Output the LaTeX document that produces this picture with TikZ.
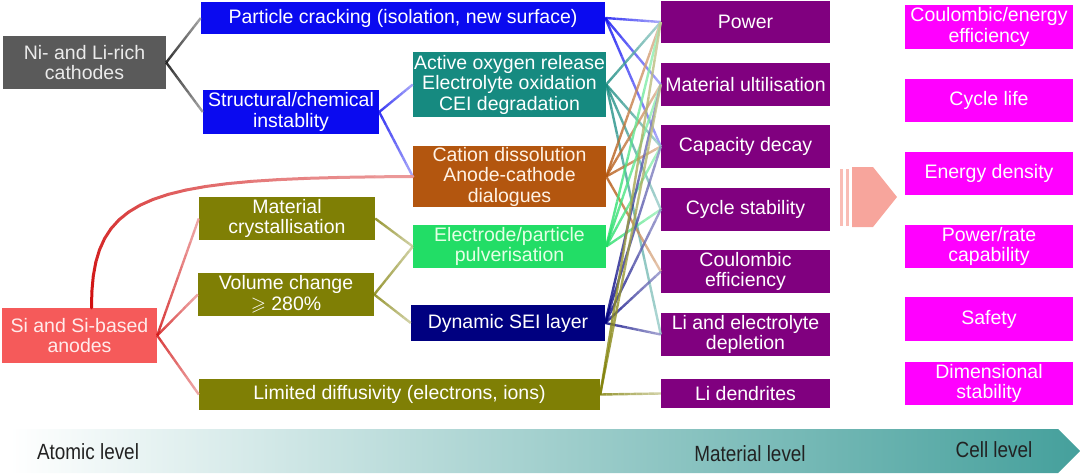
\documentclass[tikz,border=0pt]{standalone}
\usepackage{fontspec}
\usepackage{amssymb}
\usepackage{graphicx}
\setmainfont{Liberation Sans}
\usetikzlibrary{calc}
\definecolor{cgray}{HTML}{5A5A5A}
\definecolor{cblue}{HTML}{0A0AF0}
\definecolor{cteal}{HTML}{168A80}
\definecolor{corange}{HTML}{B3560F}
\definecolor{colive}{HTML}{7F7F05}
\definecolor{cgreen}{HTML}{22DD66}
\definecolor{cnavy}{HTML}{000080}
\definecolor{csalmon}{HTML}{F55A5A}
\definecolor{cpurple}{HTML}{80007F}
\definecolor{cmagenta}{HTML}{FF00FF}
\definecolor{cred}{HTML}{D01010}
\definecolor{cpinkarrow}{HTML}{F7A59C}
\definecolor{cpinkstripe}{HTML}{F9BDB5}
\definecolor{cteallevel}{HTML}{45A09C}
\definecolor{ctext}{HTML}{222222}
\newcommand{\gline}[3]{%
  \foreach \k in {0,...,9}{%
    \pgfmathsetmacro{\ta}{\k/10}%
    \pgfmathsetmacro{\tb}{(\k+1)/10}%
    \pgfmathtruncatemacro{\pc}{100-6*\k}%
    \draw[conn,draw=#3!\pc!white] ($(#1)!\ta!(#2)$) -- ($(#1)!\tb!(#2)$);
  }}
\begin{document}
\begin{tikzpicture}[x=1pt,y=-1pt,
  box/.style 2 args={rectangle, inner sep=0pt, align=center, text=white,
    font=\fontsize{19.5}{20.5}\selectfont, minimum width=#1, minimum height=#2},
  conn/.style={line width=2.4pt, opacity=0.8},
  lvl/.style={text=ctext, font=\fontsize{22}{22}\selectfont, inner sep=0pt}]
\useasboundingbox (0,0) rectangle (1080,474);
% bottom level arrow
\shade[left color=white, right color=cteallevel] (10,429) -- (1058,429) -- (1080,451) -- (1058,473) -- (10,473) -- cycle;
\node[lvl] (al) at (88,452) {\scalebox{0.86}[1]{Atomic level}};
\node[lvl] (ml) at (750,454) {\scalebox{0.86}[1]{Material level}};
\node[lvl] (cl) at (994,450) {\scalebox{0.86}[1]{Cell level}};
% pink arrow
\fill[cpinkstripe] (840,169) rectangle (843,226);
\fill[cpinkstripe] (846,169) rectangle (849,226);
\fill[cpinkarrow] (852,167) -- (873,167) -- (897,197) -- (873,227) -- (852,227) -- cycle;
% left column
\node[box={163}{53}, fill=cgray, text=white!92!black] (ni) at (84.5,62.5) {Ni- and Li-rich\\cathodes};
\node[box={155}{55}, fill=csalmon, text=white!92!red] (si) at (79.5,335.5) {Si and Si-based\\anodes};
% second column
\node[box={404}{32}, fill=cblue] (pc) at (403,18) {Particle cracking (isolation, new surface)};
\node[box={176}{44}, fill=cblue] (sci) at (291,112) {Structural/chemical\\instablity};
\node[box={176}{43}, fill=colive] (mc) at (287,218.5) {Material\\crystallisation};
\node[box={176}{43}, fill=colive, font=\fontsize{19.5}{21.5}\selectfont] (vc) at (286,294.5) {Volume change\\$\geqslant$ 280\%};
\node[box={401}{31}, fill=colive] (ld) at (399.5,394.5) {Limited diffusivity (electrons, ions)};
% third column
\node[box={193}{65}, fill=cteal] (aor) at (509.5,84.5) {Active oxygen release\\Electrolyte oxidation\\CEI degradation};
\node[box={193}{61}, fill=corange, text=white!90!orange] (cat) at (509.5,176.5) {Cation dissolution\\Anode-cathode\\dialogues};
\node[box={193}{43}, fill=cgreen, text=white!90!green] (epp) at (509.5,246.5) {Electrode/particle\\pulverisation};
\node[box={194}{36}, fill=cnavy] (sei) at (508,323) {Dynamic SEI layer};
% purple column
\node[box={169}{42}, fill=cpurple] (pw) at (745.5,22) {Power};
\node[box={169}{43}, fill=cpurple] (mu) at (745.5,84.5) {Material ultilisation};
\node[box={169}{43}, fill=cpurple] (cd) at (745.5,146.5) {Capacity decay};
\node[box={169}{43}, fill=cpurple] (cs) at (745.5,209.5) {Cycle stability};
\node[box={169}{43}, fill=cpurple] (ce) at (745.5,271.5) {Coulombic\\efficiency};
\node[box={169}{43}, fill=cpurple] (le) at (745.5,334.5) {Li and electrolyte\\depletion};
\node[box={169}{29}, fill=cpurple] (ldn) at (745.5,393.5) {Li dendrites};
% magenta column
\node[box={168}{44}, fill=cmagenta] (cee) at (989,27) {Coulombic/energy\\efficiency};
\node[box={168}{43}, fill=cmagenta] (clf) at (989,100.5) {Cycle life};
\node[box={168}{43}, fill=cmagenta] (ed) at (989,173.5) {Energy density};
\node[box={168}{43}, fill=cmagenta] (prc) at (989,246.5) {Power/rate\\capability};
\node[box={168}{44}, fill=cmagenta] (sf) at (989,319) {Safety};
\node[box={168}{43}, fill=cmagenta] (ds) at (989,383.5) {Dimensional\\stability};
% left connectors
\gline{ni.east}{pc.west}{black}
\gline{ni.east}{sci.west}{black}
\gline{sci.east}{aor.west}{cblue}
\gline{sci.east}{cat.west}{cblue}
\gline{si.east}{mc.west}{cred}
\gline{si.east}{vc.west}{cred}
\gline{si.east}{ld.west}{cred}
\gline{mc.east}{epp.west}{colive}
\gline{vc.east}{epp.west}{colive}
\gline{vc.east}{sei.west}{colive}
% red curve from anodes to cation dissolution
\coordinate (sitop) at ($(si.north)+(12,0)$);
\path (sitop) .. controls (91,192) and (150,178) .. (cat.west)
  \foreach \k in {0,...,20}{ coordinate[pos=\k/20] (rc\k) };
\foreach \k in {0,...,19}{%
  \pgfmathtruncatemacro{\kn}{\k+1}%
  \pgfmathtruncatemacro{\pc}{100-3*\k}%
  \draw[line width=3pt, line cap=round, draw=cred!\pc!white] (rc\k) -- (rc\kn);
}
% crossing connectors
\gline{pc.east}{pw.west}{cblue}
\gline{pc.east}{mu.west}{cblue}
\gline{pc.east}{cd.west}{cblue}
\gline{aor.east}{pw.west}{cteal}
\gline{aor.east}{cd.west}{cteal}
\gline{aor.east}{cs.west}{cteal}
\gline{aor.east}{le.west}{cteal}
\gline{cat.east}{pw.west}{corange}
\gline{cat.east}{mu.west}{corange}
\gline{cat.east}{cd.west}{corange}
\gline{cat.east}{ce.west}{corange}
\gline{epp.east}{pw.west}{cgreen}
\gline{epp.east}{mu.west}{cgreen}
\gline{epp.east}{cd.west}{cgreen}
\gline{epp.east}{cs.west}{cgreen}
\gline{sei.east}{mu.west}{cnavy}
\gline{sei.east}{cd.west}{cnavy}
\gline{sei.east}{cs.west}{cnavy}
\gline{sei.east}{ce.west}{cnavy}
\gline{sei.east}{le.west}{cnavy}
\gline{ld.east}{pw.west}{colive}
\gline{ld.east}{mu.west}{colive}
\gline{ld.east}{ldn.west}{colive}
\end{tikzpicture}
\end{document}
